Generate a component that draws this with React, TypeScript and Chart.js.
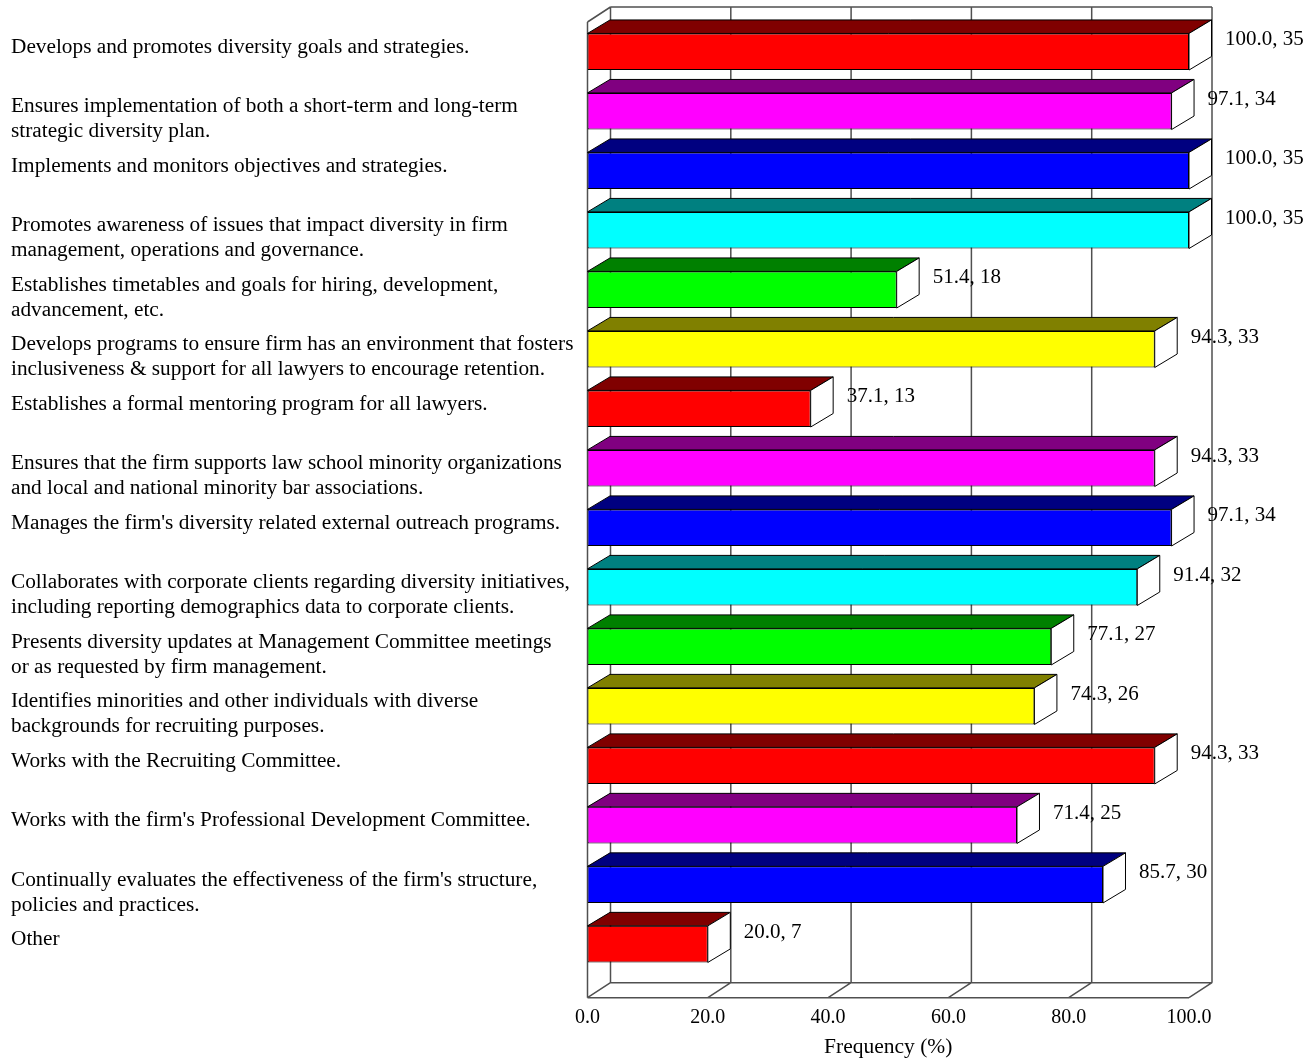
import React, { useEffect, useRef } from 'react';
import { Chart, registerables } from 'chart.js';

Chart.register(...registerables);

// Survey items (each entry is one label, split into its printed lines)
const categories: string[][] = [
  ['Develops and promotes diversity goals and strategies.'],
  ['Ensures implementation of both a short-term and long-term', 'strategic diversity plan.'],
  ['Implements and monitors objectives and strategies.'],
  ['Promotes awareness of issues that impact diversity in firm', 'management, operations and governance.'],
  ['Establishes timetables and goals for hiring, development,', 'advancement, etc.'],
  ['Develops programs to ensure firm has an environment that fosters', 'inclusiveness & support for all lawyers to encourage retention.'],
  ['Establishes a formal mentoring program for all lawyers.'],
  ['Ensures that the firm supports law school minority organizations', 'and local and national minority bar associations.'],
  ["Manages the firm's diversity related external outreach programs."],
  ['Collaborates with corporate clients regarding diversity initiatives,', 'including reporting demographics data to corporate clients.'],
  ['Presents diversity updates at Management Committee meetings', 'or as requested by firm management.'],
  ['Identifies minorities and other individuals with diverse', 'backgrounds for recruiting purposes.'],
  ['Works with the Recruiting Committee.'],
  ["Works with the firm's Professional Development Committee."],
  ["Continually evaluates the effectiveness of the firm's structure,", 'policies and practices.'],
  ['Other'],
];

const frequencyPct: number[] = [100.0, 97.1, 100.0, 100.0, 51.4, 94.3, 37.1, 94.3, 97.1, 91.4, 77.1, 74.3, 94.3, 71.4, 85.7, 20.0];
const counts: number[] = [35, 34, 35, 35, 18, 33, 13, 33, 34, 32, 27, 26, 33, 25, 30, 7];

const xTicks: number[] = [0, 20, 40, 60, 80, 100];

const frontColors: string[] = ['#FF0000', '#FF00FF', '#0000FF', '#00FFFF', '#00FF00', '#FFFF00'];
const topColors: string[] = ['#800000', '#800080', '#000080', '#008080', '#008000', '#808000'];
const paletteIndex: number[] = [0, 1, 2, 3, 4, 5, 0, 1, 2, 3, 4, 5, 0, 1, 2, 0];

const SERIF = "'Liberation Serif', 'Times New Roman', serif";

// Oblique depth of the walls/floor and of each bar
const WALL_DX = 23;
const WALL_DY = 15;
const BAR_DX = 22.5;
const BAR_DY = 13.5;

const framePlugin = {
  id: 'frame3d',
  beforeDatasetsDraw(chart: any) {
    const { ctx, chartArea: a, scales } = chart;
    const x = scales.x;
    ctx.save();
    ctx.strokeStyle = '#505050';
    ctx.lineWidth = 1.5;
    ctx.beginPath();
    // back wall vertical gridlines + floor diagonals
    for (const t of xTicks) {
      const px = x.getPixelForValue(t);
      ctx.moveTo(px + WALL_DX, a.top - WALL_DY);
      ctx.lineTo(px + WALL_DX, a.bottom - WALL_DY);
      ctx.moveTo(px, a.bottom);
      ctx.lineTo(px + WALL_DX, a.bottom - WALL_DY);
    }
    // back wall top edge
    ctx.moveTo(a.left + WALL_DX, a.top - WALL_DY);
    ctx.lineTo(a.right + WALL_DX, a.top - WALL_DY);
    // back floor edge
    ctx.moveTo(a.left + WALL_DX, a.bottom - WALL_DY);
    ctx.lineTo(a.right + WALL_DX, a.bottom - WALL_DY);
    // left wall
    ctx.moveTo(a.left, a.top);
    ctx.lineTo(a.left, a.bottom);
    ctx.moveTo(a.left, a.top);
    ctx.lineTo(a.left + WALL_DX, a.top - WALL_DY);
    // front floor edge
    ctx.moveTo(a.left, a.bottom);
    ctx.lineTo(a.right, a.bottom);
    ctx.stroke();
    ctx.restore();
  },
  afterDatasetsDraw(chart: any) {
    const { ctx } = chart;
    const meta = chart.getDatasetMeta(0);
    ctx.save();
    ctx.lineWidth = 1;
    ctx.strokeStyle = '#000';
    meta.data.forEach((bar: any, i: number) => {
      const { x, y, base, height } = bar.getProps(['x', 'y', 'base', 'height'], true);
      const top = y - height / 2;
      const bottom = y + height / 2;
      const left = base;
      const right = x;
      // top face
      ctx.beginPath();
      ctx.moveTo(left, top);
      ctx.lineTo(right, top);
      ctx.lineTo(right + BAR_DX, top - BAR_DY);
      ctx.lineTo(left + BAR_DX, top - BAR_DY);
      ctx.closePath();
      ctx.fillStyle = topColors[paletteIndex[i]];
      ctx.fill();
      ctx.stroke();
      // end face
      ctx.beginPath();
      ctx.moveTo(right, top);
      ctx.lineTo(right + BAR_DX, top - BAR_DY);
      ctx.lineTo(right + BAR_DX, bottom - BAR_DY);
      ctx.lineTo(right, bottom);
      ctx.closePath();
      ctx.fillStyle = '#FFFFFF';
      ctx.fill();
      ctx.stroke();
      // value label
      ctx.fillStyle = '#000';
      ctx.font = `21px ${SERIF}`;
      ctx.textAlign = 'left';
      ctx.textBaseline = 'middle';
      ctx.fillText(`${frequencyPct[i].toFixed(1)}, ${counts[i]}`, right + BAR_DX + 13.5, y - 12);
    });
    ctx.restore();
  },
  afterDraw(chart: any) {
    const { ctx, scales } = chart;
    const yScale = scales.y;
    ctx.save();
    ctx.fillStyle = '#000';
    ctx.font = `21.3px ${SERIF}`;
    ctx.textAlign = 'left';
    ctx.textBaseline = 'middle';
    categories.forEach((lines, i) => {
      const cy = yScale.getPixelForValue(i) - 4.5;
      lines.forEach((line, j) => {
        ctx.fillText(line, 11, cy + j * 25);
      });
    });
    ctx.restore();
  },
};

export default function App() {
  const canvasRef = useRef<HTMLCanvasElement | null>(null);

  useEffect(() => {
    const canvas = canvasRef.current;
    if (!canvas) return;
    const points = frequencyPct.map((v, i) => ({ x: v, y: i }));
    const chart = new Chart(canvas, {
      type: 'bar',
      data: {
        datasets: [
          {
            data: points as any,
            backgroundColor: paletteIndex.map((p) => frontColors[p]),
            borderColor: '#000',
            borderWidth: 1,
            borderSkipped: false,
            barPercentage: 0.615,
            categoryPercentage: 1,
          },
        ],
      },
      options: {
        indexAxis: 'y',
        animation: false,
        responsive: false,
        devicePixelRatio: 1,
        layout: { padding: { left: 587.5, right: 126, top: 22, bottom: 0 } },
        plugins: { legend: { display: false }, tooltip: { enabled: false } },
        scales: {
          x: {
            type: 'linear',
            min: 0,
            max: 100,
            afterBuildTicks: (scale: any) => {
              scale.ticks = xTicks.map((v) => ({ value: v }));
            },
            afterFit: (scale: any) => {
              scale.height = 61.3;
            },
            grid: { display: false, drawTicks: false },
            border: { display: false },
            ticks: {
              callback: (v: any) => Number(v).toFixed(1),
              font: { family: SERIF, size: 20 },
              color: '#000',
              padding: 8.5,
              maxRotation: 0,
            },
            title: {
              display: true,
              text: 'Frequency (%)',
              font: { family: SERIF, size: 21.5 },
              color: '#000',
              padding: { top: 0, bottom: -1.5 },
            },
          },
          y: {
            type: 'linear',
            min: -0.5,
            max: 15.9,
            reverse: true,
            offset: false,
            display: false,
            afterBuildTicks: (scale: any) => {
              scale.ticks = categories.map((_, i) => ({ value: i }));
            },
          },
        },
      },
      plugins: [framePlugin],
    });
    return () => chart.destroy();
  }, []);

  return (
    <div style={{ position: 'fixed', left: 0, top: 0, width: 1315, height: 1059, background: '#fff' }}>
      <canvas ref={canvasRef} width={1315} height={1059} style={{ display: 'block' }} />
    </div>
  );
}
